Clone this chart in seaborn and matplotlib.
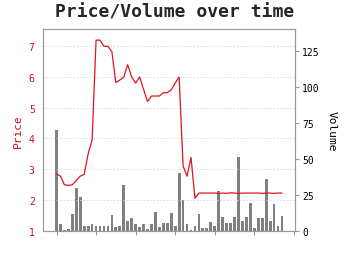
import numpy as np
import pandas as pd
import matplotlib
matplotlib.use("Agg")
import matplotlib.pyplot as plt
import seaborn as sns

price = [2.85, 2.77, 2.49, 2.47, 2.49, 2.63, 2.77, 2.83, 3.5, 3.95,
         7.2, 7.2, 7.0, 7.0, 6.82, 5.82, 5.9, 6.0, 6.4, 6.0,
         5.8, 6.0, 5.6, 5.2, 5.38, 5.38, 5.38, 5.49, 5.49, 5.58,
         5.8, 6.0, 3.1, 2.77, 3.38, 2.05, 2.22, 2.22, 2.22, 2.22,
         2.22, 2.21, 2.22, 2.21, 2.23, 2.22, 2.21, 2.22, 2.22, 2.22,
         2.22, 2.22, 2.21, 2.22, 2.22, 2.21, 2.22, 2.22]
volume = [70, 4.5, 0.3, 1, 11.4, 29.8, 23.6, 2.9, 2.9, 4.5,
          3.4, 3.4, 3.4, 3.4, 10.7, 2.2, 3.3, 31.6, 6.3, 8.6,
          4.3, 2.4, 4.3, 1, 4.3, 13.2, 2.4, 5.2, 5.2, 12,
          3.4, 39.7, 21.2, 4.7, 0.5, 3.4, 11.4, 1.9, 1.9, 5.6,
          3.4, 27.5, 9.1, 4.9, 4.9, 9.1, 50.9, 6.3, 9.1, 18.8,
          1.7, 8.4, 8.4, 35.5, 6.3, 18.3, 3.4, 9.8]
day = list(range(len(price)))
price_ticks = [1, 2, 3, 4, 5, 6, 7]
volume_ticks = [0, 25, 50, 75, 100, 125]
x_ticks = [0, 10, 20, 30, 40, 50, 60]

df = pd.DataFrame({"day": day, "price": price, "volume": volume})

sns.set_theme(style="white")
plt.rcParams['font.family'] = ['DejaVu Sans Mono', 'DejaVu Sans']

RED = "#cc1111"
SPINE = "#999999"

fig = plt.figure(figsize=(3.5, 2.55), dpi=100)
ax = fig.add_axes([0.123, 0.092, 0.72, 0.79])
ax2 = ax.twinx()

# volume bars on right axis (drawn behind)
ax2.bar(df["day"], df["volume"], width=0.7, color="#808080", linewidth=0, zorder=1)
ax2.set_ylim(0, 2 * max(volume))
ax2.set_yticks(volume_ticks)
ax2.set_ylabel("Volume", rotation=270, labelpad=12, fontsize=8, color="black")
ax2.tick_params(axis="y", labelsize=7, colors="black", length=3, width=0.8,
                color=SPINE, pad=2)

# price line on left axis, placed in front
ax.set_zorder(ax2.get_zorder() + 1)
ax.patch.set_visible(False)
sns.lineplot(data=df, x="day", y="price", ax=ax, color="#e0141e", linewidth=0.9)
ax.set_ylim(1, max(price) * 1.05)
ax.set_yticks(price_ticks)
ax.set_xlim(-3.4, 60.3)
ax.set_xticks(x_ticks)
ax.set_xticklabels([""] * len(x_ticks))
ax.set_xlabel("")
ax.set_ylabel("Price", fontsize=8, color=RED, labelpad=4)
ax.tick_params(axis="y", labelsize=7, labelcolor=RED, length=0, pad=6)
ax.tick_params(axis="x", length=3, width=0.8, color=SPINE, bottom=True)
ax.yaxis.grid(True, linestyle=(0, (2, 2)), color="#d8d8d8", linewidth=0.6)
ax.xaxis.grid(False)

for a in (ax, ax2):
    for s in a.spines.values():
        s.set_color(SPINE)
        s.set_linewidth(0.8)

fig.suptitle("Price/Volume over time", fontsize=13, fontweight="bold",
             x=0.5, y=0.985, family="DejaVu Sans Mono")

fig.savefig("out.png", dpi=100)
